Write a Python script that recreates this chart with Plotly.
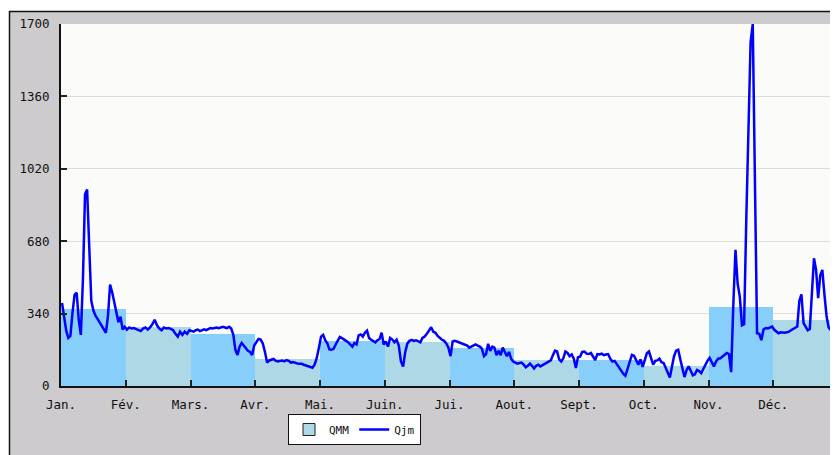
import plotly.graph_objects as go

months = ["Jan.", "Fév.", "Mars.", "Avr.", "Mai.", "Juin.", "Jui.", "Aout.", "Sept.", "Oct.", "Nov.", "Déc."]
qmm = [363, 275, 245, 127, 212, 208, 179, 123, 123, 96, 373, 312]
bar_colors = ["#87CEFA", "#ADD8E6"] * 6
y_ticks = [0, 340, 680, 1020, 1360, 1700]

jan = [390, 311, 260, 226, 235, 344, 428, 438, 311, 240, 500, 900, 923, 660, 400, 355, 330, 315, 300, 285,
       265, 250, 330, 476, 440, 395, 360, 300, 325, 265, 278]
feb = [265, 275, 270, 272, 268, 262, 258, 270, 275, 265, 275, 290, 311, 285, 270, 262, 275, 270, 272, 268,
       262, 245, 232, 255, 240, 255, 245, 262]
mar = [260, 255, 262, 265, 258, 262, 266, 262, 268, 272, 270, 272, 275, 272, 276, 278, 275, 272, 278, 270,
       240, 170, 146, 185, 202, 190, 175, 165, 160, 146, 190]
apr = [209, 221, 218, 200, 160, 110, 120, 125, 127, 118, 115, 118, 120, 116, 122, 118, 110, 112, 108, 106,
       104, 104, 100, 97, 94, 90, 86, 100, 132, 180]
may = [232, 240, 215, 200, 172, 170, 175, 195, 215, 230, 225, 220, 212, 205, 193, 185, 202, 195, 238, 242,
       232, 250, 260, 225, 217, 210, 205, 215, 220, 250, 195]
jun = [209, 185, 226, 218, 205, 217, 190, 115, 91, 160, 200, 212, 217, 212, 215, 210, 205, 226, 232, 245,
       262, 276, 255, 250, 235, 225, 217, 212, 200, 180]
jul = [140, 209, 212, 209, 205, 200, 198, 195, 190, 180, 185, 190, 195, 190, 185, 175, 140, 150, 198, 165,
       185, 180, 145, 165, 145, 180, 160, 140, 160, 128, 115]
aug = [108, 105, 108, 110, 100, 88, 95, 105, 95, 82, 95, 100, 92, 98, 100, 108, 112, 120, 145, 166,
       162, 125, 115, 130, 162, 155, 140, 148, 128, 85, 135]
sep = [138, 160, 162, 152, 150, 155, 138, 122, 150, 148, 152, 145, 148, 150, 128, 115, 118, 102, 92, 75,
       58, 48, 80, 110, 146, 142, 120, 100, 125, 90]
oct_ = [122, 154, 162, 135, 100, 118, 120, 128, 112, 108, 85, 55, 40, 90, 140, 166, 170, 125, 75, 42,
        75, 92, 72, 50, 55, 75, 70, 60, 80, 100, 118]
nov = [132, 115, 92, 115, 128, 130, 138, 145, 155, 150, 65, 380, 640, 480, 420, 285, 290, 780, 1250, 1614,
       1700, 1080, 248, 245, 215, 265, 272, 270, 275, 279]
dec = [264, 255, 248, 252, 250, 250, 252, 255, 262, 268, 272, 279, 400, 430, 295, 280, 262, 268, 440, 600,
       545, 413, 520, 545, 430, 330, 275, 264, 264, 268, 264]

daily = [jan, feb, mar, apr, may, jun, jul, aug, sep, oct_, nov, dec]

qx, qy = [], []
for m, vals in enumerate(daily):
    n = len(vals)
    for d, v in enumerate(vals):
        qx.append(m + (d + 0.5) / n)
        qy.append(v)

FONT = "DejaVu Sans Mono"

fig = go.Figure()
fig.add_trace(go.Bar(
    x=[m + 0.5 for m in range(12)], y=qmm, width=1.0,
    marker=dict(color=bar_colors, line=dict(width=0)),
    showlegend=False, hoverinfo="skip"))
fig.add_trace(go.Bar(
    x=[None], y=[None], name="QMM",
    marker=dict(color="#ADD8E6", line=dict(color="#222222", width=1))))
fig.add_trace(go.Scatter(
    x=qx, y=qy, mode="lines", name="Qjm",
    line=dict(color="#0000FF", width=2.5)))

# plot-area pixels inside the figure (page body adds an 8px offset)
L, R, T, B = 53, 830, 16, 378
def px(x):
    return (x - L) / (R - L)
def py(y):
    return (B - y) / (B - T)

fig.update_layout(
    width=838, height=455,
    margin=dict(l=L, r=838 - R, t=T, b=455 - B),
    paper_bgcolor="white", plot_bgcolor="#FBFCFA",
    barmode="overlay", bargap=0,
    font=dict(family=FONT, size=12, color="#111111"),
    showlegend=True,
    legend=dict(orientation="h", x=px(280), y=py(406), xanchor="left", yanchor="top",
                bgcolor="white", bordercolor="#111111", borderwidth=1,
                font=dict(family=FONT, size=11, color="#111111"),
                itemwidth=30, tracegroupgap=0),
    shapes=[
        dict(type="rect", xref="paper", yref="paper",
             x0=px(1.5), x1=px(850), y0=py(470), y1=py(3.5),
             fillcolor="#CDCBCE", line=dict(color="#111111", width=1.5), layer="below"),
        dict(type="rect", xref="paper", yref="paper",
             x0=0, x1=1, y0=0, y1=1,
             fillcolor="#FBFCFA", line=dict(width=0), layer="below"),
    ],
)
fig.update_xaxes(
    range=[0, 12], tickmode="array", tickvals=list(range(12)), ticktext=months,
    showgrid=False, zeroline=False,
    showline=True, linecolor="#111111", linewidth=2,
    ticks="inside", ticklen=6, tickwidth=2, tickcolor="#222222",
    ticklabelstandoff=6, tickfont=dict(family=FONT, size=12.5))
fig.update_yaxes(
    range=[0, 1700], tickmode="array", tickvals=y_ticks, ticktext=[str(v) for v in y_ticks],
    showgrid=True, gridcolor="#DCDCDC", gridwidth=1, zeroline=False,
    showline=True, linecolor="#111111", linewidth=2,
    ticks="inside", ticklen=6, tickwidth=2, tickcolor="#222222",
    ticklabelstandoff=7, tickfont=dict(family=FONT, size=12.5))

fig.write_html("out.html")
